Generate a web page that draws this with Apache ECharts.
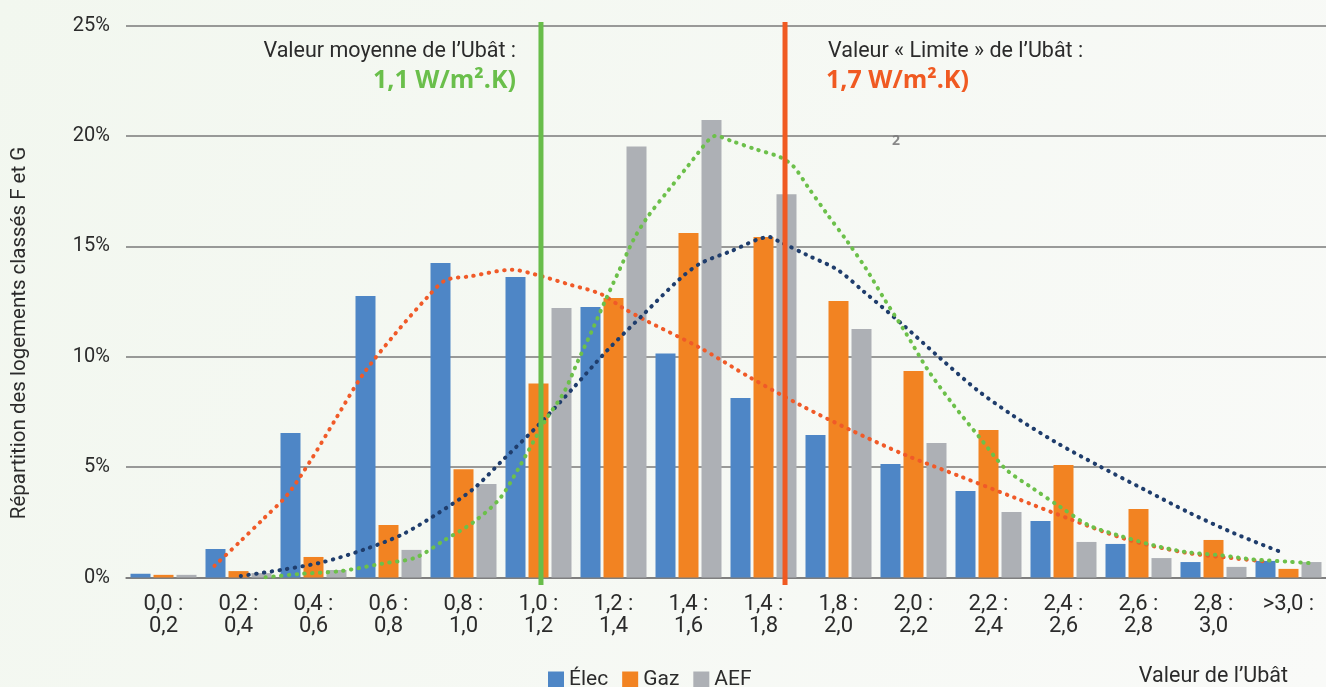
<!DOCTYPE html>
<html>
<head>
<meta charset="utf-8">
<script src="https://cdn.jsdelivr.net/npm/echarts@6/dist/echarts.min.js"></script>
<style>html,body{margin:0;padding:0;}#c{width:1326px;height:687px;}</style>
</head>
<body>
<div id="c"></div>
<script>
// ---------- DATA ----------
const categories = ['0,0 :\n0,2','0,2 :\n0,4','0,4 :\n0,6','0,6 :\n0,8','0,8 :\n1,0','1,0 :\n1,2','1,2 :\n1,4','1,4 :\n1,6','1,4 :\n1,8','1,8 :\n2,0','2,0 :\n2,2','2,2 :\n2,4','2,4 :\n2,6','2,6 :\n2,8','2,8 :\n3,0','>3,0 :'];
const elec = [0.17,1.29,6.54,12.75,14.24,13.61,12.25,10.14,8.13,6.45,5.14,3.92,2.56,1.52,0.70,0.75];
const gaz  = [0.12,0.29,0.93,2.38,4.90,8.79,12.66,15.60,15.42,12.52,9.35,6.68,5.10,3.10,1.70,0.39];
const aef  = [0.12,0.20,0.34,1.25,4.23,12.20,19.52,20.72,17.36,11.25,6.09,2.97,1.61,0.88,0.48,0.70];
const yTicks = [0,5,10,15,20,25];

// trend curves: [position in category units, %]
const trendRed = [[1.18,0.53],[1.50,1.56],[1.83,2.65],[2.15,3.74],[2.46,5.29],[2.81,7.26],[3.16,9.20],[3.58,11.0],[4.02,12.70],[4.26,13.46],[4.59,13.64],[5.15,13.94],[5.47,13.71],[5.90,13.28],[6.33,12.84],[6.62,12.22],[6.92,11.66],[7.66,10.39],[8.33,9.04],[8.99,7.81],[9.66,6.68],[10.39,5.55],[11.13,4.57],[11.86,3.60],[12.59,2.64],[13.33,1.74],[14.10,1.14],[14.76,0.87],[15.22,0.72]];
const trendNavy = [[1.53,0.07],[2.08,0.35],[2.63,0.70],[3.17,1.26],[3.69,1.96],[4.17,2.93],[4.63,4.01],[5.03,5.34],[5.51,6.94],[5.97,8.61],[6.42,10.30],[6.90,11.92],[7.38,13.51],[7.65,14.21],[8.06,14.77],[8.58,15.42],[8.69,15.25],[9.09,14.59],[9.49,13.93],[9.84,12.94],[10.35,11.47],[10.85,9.95],[11.36,8.46],[11.82,7.35],[12.39,6.14],[12.98,5.04],[13.58,3.98],[14.18,2.93],[14.79,1.98],[15.41,1.14]];
const trendGreen = [[1.86,0.01],[2.31,0.16],[2.86,0.29],[3.42,0.63],[3.86,0.90],[4.25,1.70],[4.63,2.50],[4.98,3.56],[5.22,4.86],[5.59,7.10],[5.84,8.39],[6.02,9.76],[6.21,11.16],[6.39,12.54],[6.58,13.94],[6.77,15.32],[6.95,16.31],[7.22,17.49],[7.50,18.67],[7.78,19.86],[7.86,20.0],[8.08,19.76],[8.40,19.39],[8.72,19.04],[8.90,18.62],[9.09,17.70],[9.35,16.45],[9.62,15.21],[9.87,13.97],[10.10,12.67],[10.40,11.06],[10.69,9.41],[11.02,7.87],[11.37,6.39],[11.73,4.91],[12.09,4.04],[12.46,3.19],[12.84,2.36],[13.26,1.88],[13.70,1.46],[14.14,1.15],[14.58,1.01],[15.03,0.82],[15.48,0.72],[15.82,0.64]];

const meanPos = 5.533;   // 1,1 W/m².K
const limitPos = 8.787;  // 1,7 W/m².K
const lineSpan = [-0.34, 25.16];

// ---------- CHART ----------
const FONT = "Roboto, 'Noto Sans', sans-serif";
const TXT = '#2b2b2b';
const chart = echarts.init(document.getElementById('c'));

function dotted(name, data, color) {
  return {
    name, type:'line', xAxisIndex:1, data, smooth:0.3, symbol:'none', z:5,
    lineStyle:{color, width:4, type:[0.5,7.3], cap:'round'}
  };
}
function vline(data, color) {
  return {
    type:'line', xAxisIndex:1, data, symbol:'none', clip:false, z:8,
    lineStyle:{color, width:5}
  };
}

chart.setOption({
  animation:false,
  backgroundColor:{type:'linear',x:0,y:0,x2:1,y2:1,colorStops:[{offset:0,color:'#f2f7ef'},{offset:1,color:'#f9faf8'}]},
  textStyle:{fontFamily:FONT},
  grid:{left:126, top:25.5, width:1200, height:552, containLabel:false},
  legend:{
    data:['Élec','Gaz','AEF'], left:543, top:664, itemWidth:16, itemHeight:16, itemGap:14, icon:'rect',
    textStyle:{fontSize:21, color:TXT, fontFamily:FONT}
  },
  xAxis:[
    {type:'category', data:categories,
     axisLine:{lineStyle:{color:'#777', width:1.5}}, axisTick:{show:false},
     axisLabel:{fontSize:22, lineHeight:22, color:TXT, margin:16, interval:0}},
    {type:'value', min:0, max:16, show:false}
  ],
  yAxis:{
    type:'value', min:yTicks[0], max:yTicks[yTicks.length-1], interval:5,
    axisLabel:{formatter:'{value}%', fontSize:20, color:TXT, margin:16},
    splitLine:{lineStyle:{color:'#7a7a7a', width:1.5}},
    axisLine:{show:false}, axisTick:{show:false}
  },
  series:[
    {name:'Élec', type:'bar', data:elec, barWidth:20, barGap:'15%', itemStyle:{color:'#4e86c6'}},
    {name:'Gaz', type:'bar', data:gaz, barWidth:20, barGap:'15%', itemStyle:{color:'#f28322'}},
    {name:'AEF', type:'bar', data:aef, barWidth:20, barGap:'15%', itemStyle:{color:'#adb0b5'}},
    dotted('t1', trendRed, '#f05a28'),
    dotted('t2', trendNavy, '#1f3d6c'),
    dotted('t3', trendGreen, '#6cc04a'),
    vline([[meanPos, lineSpan[0]],[meanPos, lineSpan[1]]], '#68bd4a'),
    vline([[limitPos, lineSpan[0]],[limitPos, lineSpan[1]]], '#f05a22')
  ],
  graphic:[
    {type:'text', x:20, y:333, rotation:Math.PI/2, style:{text:'Répartition des logements classés F et G', align:'center', verticalAlign:'middle', fontSize:20.5, fill:TXT, fontFamily:FONT}},
    {type:'text', x:516, y:52, style:{text:'Valeur moyenne de l’Ubât :', align:'right', verticalAlign:'middle', fontSize:21.5, fill:TXT, fontFamily:FONT}},
    {type:'text', x:516, y:81, style:{text:'1,1 W/m².K)', align:'right', verticalAlign:'middle', fontSize:25, fontWeight:'bold', fill:'#6abf4b', fontFamily:"'Open Sans', sans-serif"}},
    {type:'text', x:828, y:52, style:{text:'Valeur « Limite » de l’Ubât :', align:'left', verticalAlign:'middle', fontSize:21.5, fill:TXT, fontFamily:FONT}},
    {type:'text', x:826, y:81, style:{text:'1,7 W/m².K)', align:'left', verticalAlign:'middle', fontSize:25, fontWeight:'bold', fill:'#f05a22', fontFamily:"'Open Sans', sans-serif"}},
    {type:'text', x:896, y:141, style:{text:'2', align:'center', verticalAlign:'middle', fontSize:14, fontWeight:'bold', fill:'#888', fontFamily:"'Open Sans', sans-serif"}},
    {type:'text', x:1288, y:677, style:{text:'Valeur de l’Ubât', align:'right', verticalAlign:'middle', fontSize:21.5, fill:TXT, fontFamily:FONT}}
  ]
});
</script>
</body>
</html>
